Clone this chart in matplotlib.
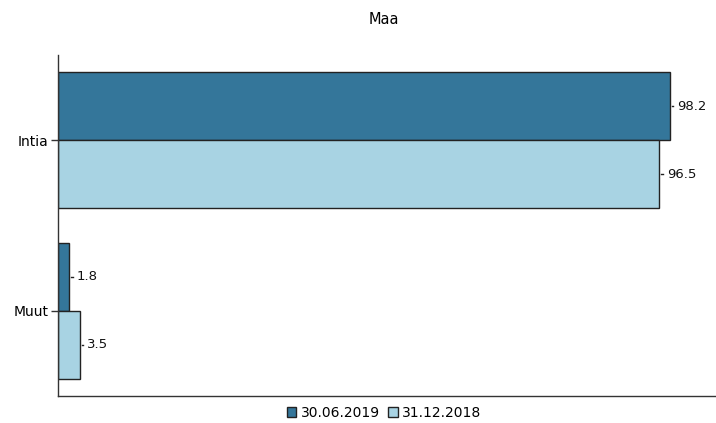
import numpy as np
import matplotlib.pyplot as plt
from matplotlib.patches import Patch

# Données du graphique
categories = ['Intia', 'Muut']
series_names = ['30.06.2019', '31.12.2018']
vals_2019 = [98.2, 1.8]
vals_2018 = [96.5, 3.5]
labels_2019 = ['98.2', '1.8']
labels_2018 = ['96.5', '3.5']

col_dark = '#34769a'
col_light = '#a8d3e3'

plt.rcParams['font.family'] = ['DejaVu Sans']

fig = plt.figure(figsize=(7.16, 4.23), dpi=100)
ax = fig.add_axes([58 / 716, 27 / 423, 1 - 58 / 716, (396 - 55) / 423])

y = np.arange(len(categories))
h = 0.4
ax.barh(y - h / 2, vals_2019, height=h, color=col_dark, edgecolor='#222222', linewidth=1)
ax.barh(y + h / 2, vals_2018, height=h, color=col_light, edgecolor='#222222', linewidth=1)

# Étiquettes des valeurs avec un petit trait
for yy, v, lab in zip(y - h / 2, vals_2019, labels_2019):
    ax.plot([v + 0.35, v + 0.55], [yy, yy], color='#222222', linewidth=1)
    ax.text(v + 1.2, yy, lab, fontsize=9.5, va='center', ha='left', color='#111111')
for yy, v, lab in zip(y + h / 2, vals_2018, labels_2018):
    ax.plot([v + 0.35, v + 0.55], [yy, yy], color='#222222', linewidth=1)
    ax.text(v + 1.2, yy, lab, fontsize=9.5, va='center', ha='left', color='#111111')

ax.set_ylim(1.5, -0.5)
ax.set_xlim(0, 105.6)
ax.set_yticks(y)
ax.set_yticklabels(categories, fontsize=10)
ax.set_xticks([])
ax.tick_params(axis='y', length=5, width=1, color='#333333', pad=2)
for s in ['top', 'right']:
    ax.spines[s].set_visible(False)
for s in ['left', 'bottom']:
    ax.spines[s].set_color('#333333')
    ax.spines[s].set_linewidth(1)

fig.text(384 / 716, 1 - 20 / 423, 'Maa', ha='center', va='center', fontsize=10.5)

handles = [Patch(facecolor=col_dark, edgecolor='#222222', label=series_names[0]),
           Patch(facecolor=col_light, edgecolor='#222222', label=series_names[1])]
fig.legend(handles=handles, loc='center', bbox_to_anchor=(384 / 716, 10 / 423), ncol=2,
           frameon=False, fontsize=10, handlelength=0.7, handleheight=0.7,
           handletextpad=0.3, columnspacing=0.6, borderpad=0)

fig.savefig('out.png', dpi=100)
